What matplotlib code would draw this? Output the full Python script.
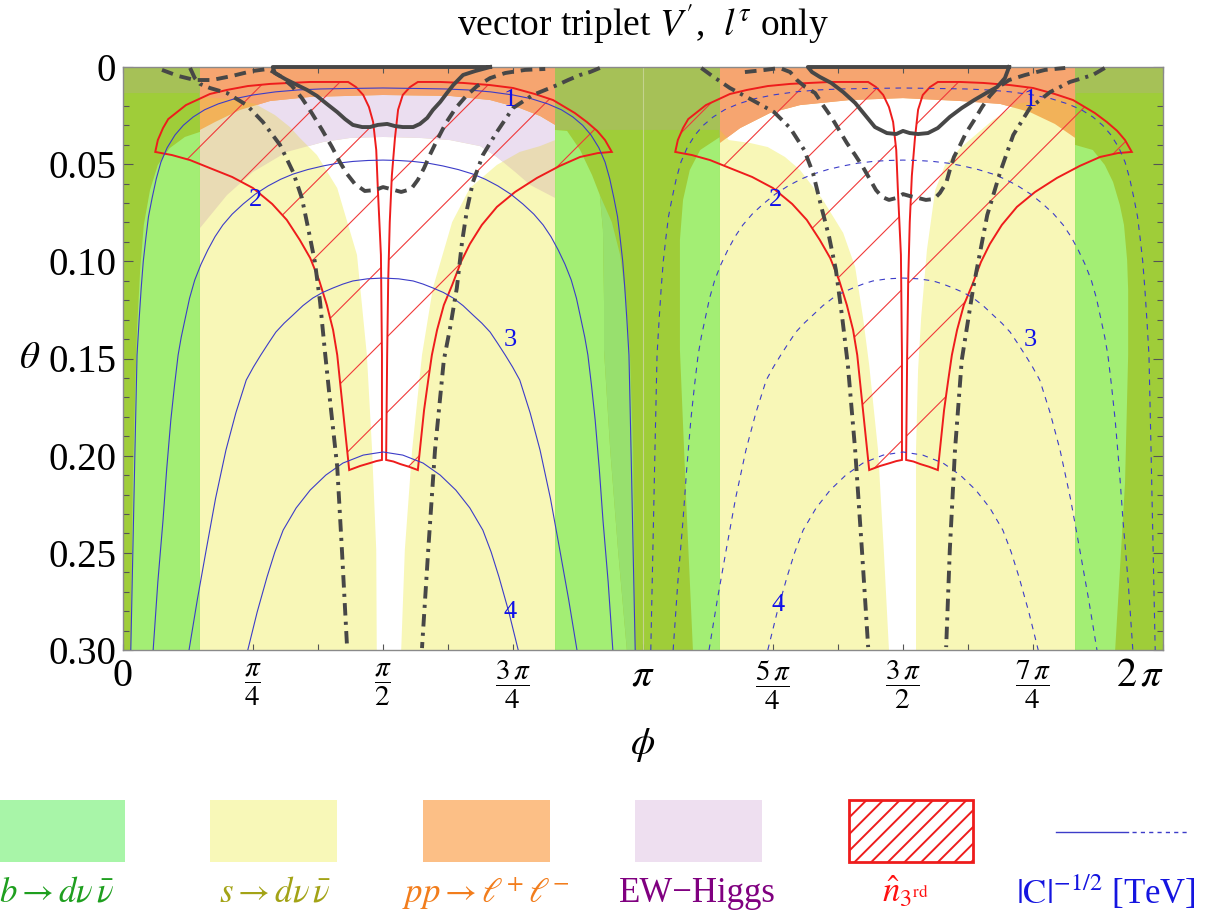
import numpy as np
import matplotlib.pyplot as plt
import matplotlib.transforms as mtransforms
from matplotlib.lines import Line2D
from matplotlib.patches import Polygon, PathPatch, Rectangle
from matplotlib.path import Path

plt.rcParams['font.family'] = ['Liberation Serif', 'DejaVu Serif']
plt.rcParams['mathtext.fontset'] = 'stix'
plt.rcParams['hatch.linewidth'] = 1.4

PI = np.pi

# all phi values below are in units of pi

# s -> d nu nubar : allowed pockets (white) around pi/2 and 3pi/2
wl_phi = [0.148, 0.831, 0.831, 0.802, 0.763, 0.719, 0.667, 0.633, 0.596, 0.575, 0.556, 0.542, 0.535,
          0.488, 0.487, 0.479, 0.469, 0.450, 0.412, 0.373, 0.340, 0.321, 0.292, 0.254, 0.206, 0.148]
wl_theta = [0.0, 0.0, 0.0376, 0.0407, 0.0437, 0.0504, 0.0623, 0.0798, 0.1137, 0.1482, 0.1971, 0.2485, 0.300,
            0.300, 0.2485, 0.1971, 0.1482, 0.0967, 0.0623, 0.0453, 0.0365, 0.0309, 0.0247, 0.0190, 0.0165, 0.0154]
wr_phi = [1.148, 1.148, 1.165, 1.206, 1.240, 1.273, 1.302, 1.346, 1.385, 1.408, 1.423, 1.435, 1.452, 1.463, 1.473,
          1.525, 1.525, 1.525, 1.529, 1.535, 1.546, 1.562, 1.581, 1.610, 1.635, 1.673, 1.719, 1.763, 1.831, 1.831]
wr_theta = [0.0, 0.0324, 0.0376, 0.0391, 0.0412, 0.0463, 0.0530, 0.0684, 0.0854, 0.1029, 0.1287, 0.1534, 0.1971, 0.2485, 0.300,
            0.300, 0.2485, 0.1971, 0.1559, 0.1287, 0.0942, 0.0633, 0.0504, 0.0417, 0.0360, 0.0273, 0.0190, 0.0170, 0.0160, 0.0]

# EW-Higgs exclusion (only phi < pi)
pur_phi = [0.138, 0.850, 0.850, 0.831, 0.783, 0.754, 0.719, 0.687, 0.629, 0.571, 0.500, 0.437, 0.385,
           0.315, 0.250, 0.200, 0.148, 0.138]
pur_theta = [0.0, 0.0, 0.0710, 0.0674, 0.0607, 0.0540, 0.0463, 0.0407, 0.0376, 0.0365, 0.0360, 0.0365, 0.0386,
             0.0437, 0.0540, 0.0659, 0.0829, 0.0849]

# pp -> l+ l- exclusion, lower edge
ora_phi = [0.0, 0.146, 0.148, 0.177, 0.225, 0.283, 0.360, 0.500, 0.629, 0.706, 0.763, 0.802, 0.831, 0.833,
           1.146, 1.148, 1.187, 1.244, 1.302, 1.398, 1.500, 1.610, 1.687, 1.744, 1.792, 1.831, 1.833, 2.0]
ora_theta = [0.0134, 0.0134, 0.0324, 0.0283, 0.0221, 0.0175, 0.0154, 0.0144, 0.0149, 0.0170, 0.0211, 0.0252, 0.0298, 0.0324,
             0.0324, 0.0391, 0.0314, 0.0237, 0.0196, 0.0170, 0.0160, 0.0175, 0.0190, 0.0232, 0.0293, 0.0365, 0.0134, 0.0134]

# b -> d nu nubar bands
band_lo = [0.0, 0.831, 1.831]
band_hi = [0.148, 1.148, 2.0]
lg0_phi = [0.148, 0.119, 0.090, 0.067, 0.052, 0.040, 0.033, 0.027, 0.023, 0.019, 0.017, 0.015, 0.148]
lg0_theta = [0.0334, 0.0360, 0.0417, 0.0504, 0.0633, 0.0813, 0.1045, 0.1353, 0.1714, 0.2125, 0.2537, 0.300, 0.300]
lg1_phi = [0.831, 0.854, 0.879, 0.902, 0.917, 0.923, 0.925, 0.925, 0.937, 0.952, 0.969, 0.831]
lg1_theta = [0.0324, 0.0329, 0.0427, 0.0556, 0.0659, 0.0839, 0.1199, 0.1456, 0.1971, 0.2485, 0.300, 0.300]
mg1_phi = [0.917, 0.940, 0.956, 0.967, 0.975, 0.981, 0.983, 0.985, 0.969, 0.952, 0.937, 0.925, 0.925, 0.923]
mg1_theta = [0.0659, 0.0798, 0.0967, 0.1199, 0.1482, 0.1971, 0.2485, 0.300, 0.300, 0.2485, 0.1971, 0.1456, 0.1199, 0.0839]
lg2_phi = [1.148, 1.110, 1.090, 1.077, 1.071, 1.071, 1.071, 1.083, 1.096, 1.148]
lg2_theta = [0.0360, 0.0427, 0.0530, 0.0684, 0.0890, 0.1199, 0.1456, 0.2228, 0.300, 0.300]
lg3_phi = [1.831, 1.865, 1.888, 1.904, 1.917, 1.925, 1.931, 1.933, 1.933, 1.927, 1.908, 1.831]
lg3_theta = [0.0401, 0.0427, 0.0504, 0.0592, 0.0710, 0.0813, 0.0993, 0.1148, 0.1482, 0.2141, 0.300, 0.300]

# n_3rd region: two lobes per half period (outer arc, centre spike, bottom arc, inner edge)
redL_phi = [0.062, 0.067, 0.077, 0.087, 0.104, 0.121, 0.142, 0.167, 0.200, 0.240, 0.283, 0.321, 0.360, 0.433,
            0.448, 0.462, 0.473, 0.481, 0.487, 0.490, 0.496, 0.498, 0.498,
            0.487, 0.475, 0.456, 0.435,
            0.429, 0.423, 0.417, 0.412, 0.404, 0.392, 0.377, 0.360, 0.340, 0.315, 0.287, 0.250, 0.210, 0.167,
            0.129, 0.094]
redL_theta = [0.0437, 0.0376, 0.0314, 0.0268, 0.0232, 0.0196, 0.0170, 0.0139, 0.0118, 0.0098, 0.0087, 0.0082, 0.0077,
              0.0077,
              0.0103, 0.0144, 0.0206, 0.0283, 0.0427, 0.0623, 0.0967, 0.1482, 0.2022,
              0.2028, 0.2038, 0.2053, 0.2074,
              0.1919, 0.1765, 0.1611, 0.1482, 0.1353, 0.1225, 0.1096, 0.0983, 0.0890, 0.0787, 0.0705, 0.0623, 0.0566,
              0.0520, 0.0479, 0.0453]
redR_phi = [0.940, 0.927, 0.912, 0.892, 0.869, 0.827, 0.792, 0.750, 0.706, 0.654, 0.610, 0.567,
            0.552, 0.538, 0.529, 0.523, 0.517, 0.513, 0.510, 0.508, 0.506,
            0.520, 0.533, 0.550, 0.567,
            0.573, 0.579, 0.587, 0.594, 0.604, 0.617, 0.633, 0.650, 0.667, 0.690, 0.719, 0.754, 0.796, 0.840,
            0.879, 0.913]
redR_theta = [0.0437, 0.0376, 0.0329, 0.0283, 0.0237, 0.0170, 0.0139, 0.0108, 0.0093, 0.0082, 0.0077, 0.0077,
              0.0103, 0.0144, 0.0220, 0.0365, 0.0560, 0.0798, 0.1100, 0.1482, 0.2022,
              0.2030, 0.2043, 0.2057, 0.2074,
              0.1919, 0.1765, 0.1611, 0.1482, 0.1353, 0.1225, 0.1122, 0.1003, 0.0911, 0.0813, 0.0720, 0.0643, 0.0571,
              0.0509, 0.0463, 0.0443]

# |C|^-1/2 contours, distance from pi/2 (units of pi) vs theta, outer end first
c1_dev = [0.485, 0.481, 0.477, 0.473, 0.469, 0.465, 0.461, 0.456, 0.451, 0.444, 0.436, 0.427, 0.415, 0.400, 0.384,
          0.365, 0.343, 0.317, 0.285, 0.250, 0.207, 0.163, 0.120, 0.077, 0.0]
c1_theta = [0.300, 0.2485, 0.1971, 0.1482, 0.130, 0.1137, 0.100, 0.0880, 0.077, 0.0674, 0.0575, 0.0489, 0.0415, 0.0350,
            0.0300, 0.0257, 0.0220, 0.0190, 0.0163, 0.0144, 0.0128, 0.0118, 0.0113, 0.0111, 0.0108]
c2_dev = [0.442, 0.433, 0.423, 0.416, 0.408, 0.401, 0.394, 0.388, 0.381, 0.372, 0.362, 0.350, 0.337, 0.323, 0.308,
          0.290, 0.269, 0.246, 0.221, 0.197, 0.173, 0.145, 0.115, 0.087, 0.058, 0.029, 0.0]
c2_theta = [0.300, 0.265, 0.2331, 0.207, 0.1816, 0.164, 0.1482, 0.139, 0.1302, 0.119, 0.1096, 0.1015, 0.0942, 0.0873,
            0.0813, 0.0757, 0.0705, 0.0655, 0.0612, 0.0578, 0.0551, 0.0528, 0.0509, 0.0495, 0.0486, 0.0481, 0.0479]
c3_dev = [0.373, 0.357, 0.340, 0.322, 0.302, 0.283, 0.263, 0.249, 0.235, 0.220, 0.206, 0.190, 0.173, 0.154, 0.135,
          0.116, 0.096, 0.077, 0.058, 0.030, 0.0]
c3_theta = [0.300, 0.274, 0.2485, 0.222, 0.1971, 0.178, 0.1611, 0.1543, 0.1482, 0.142, 0.1364, 0.1318, 0.1276, 0.1228,
            0.1189, 0.1160, 0.1137, 0.1117, 0.1101, 0.1090, 0.1086]
c4_dev = [0.260, 0.242, 0.223, 0.208, 0.192, 0.167, 0.140, 0.110, 0.077, 0.038, 0.0]
c4_theta = [0.300, 0.2805, 0.2624, 0.2496, 0.2383, 0.2269, 0.2177, 0.2100, 0.2038, 0.1997, 0.1981]
clab_text = ['1', '2', '3', '4', '1', '2', '3', '4']
clab_phi = [0.744, 0.254, 0.744, 0.744, 1.744, 1.254, 1.744, 1.260]
clab_theta = [0.017, 0.0684, 0.1405, 0.2805, 0.017, 0.0684, 0.1405, 0.2768]

# thick grey bounds
sl_phi = [0.706, 0.288, 0.292, 0.312, 0.335, 0.354, 0.373, 0.392, 0.412, 0.427, 0.442, 0.460, 0.475, 0.490,
          0.508, 0.523, 0.538, 0.558, 0.571, 0.585, 0.596, 0.610, 0.623, 0.635, 0.654, 0.677, 0.706]
sl_theta = [0.0, 0.0, 0.0031, 0.0062, 0.0093, 0.0118, 0.0149, 0.0190, 0.0232, 0.0268, 0.0298, 0.0309, 0.0309, 0.0298,
            0.0293, 0.0304, 0.0309, 0.0309, 0.0293, 0.0262, 0.0221, 0.0180, 0.0134, 0.0093, 0.0041, 0.0021, 0.0]
sr_phi = [1.704, 1.317, 1.325, 1.340, 1.362, 1.385, 1.408, 1.427, 1.446, 1.469, 1.487, 1.500, 1.513, 1.529,
          1.548, 1.567, 1.590, 1.613, 1.637, 1.660, 1.681, 1.696, 1.704]
sr_theta = [0.0, 0.0, 0.0026, 0.0051, 0.0082, 0.0129, 0.0185, 0.0247, 0.0309, 0.0340, 0.0345, 0.0329, 0.0340, 0.0345,
            0.0340, 0.0314, 0.0257, 0.0211, 0.0170, 0.0134, 0.0103, 0.0057, 0.0]
dl_phi = [0.075, 0.106, 0.138, 0.171, 0.210, 0.248, 0.279, 0.302, 0.325, 0.344, 0.363, 0.383, 0.402, 0.417, 0.431,
          0.446, 0.465, 0.485, 0.500, 0.515, 0.535, 0.554, 0.567, 0.579, 0.590, 0.604, 0.621, 0.640, 0.660, 0.681,
          0.706, 0.735, 0.773, 0.812]
dl_theta = [0.0015, 0.0046, 0.0067, 0.0067, 0.0046, 0.0021, 0.0010, 0.0046, 0.0098, 0.0160, 0.0237, 0.0324, 0.0412,
            0.0489, 0.0551, 0.0602, 0.0638, 0.0633, 0.0618, 0.0628, 0.0643, 0.0628, 0.0581, 0.0520, 0.0453, 0.0376,
            0.0288, 0.0211, 0.0149, 0.0098, 0.0057, 0.0031, 0.0015, 0.0010]
dr_phi = [1.196, 1.235, 1.263, 1.283, 1.296, 1.312, 1.331, 1.346, 1.362, 1.377, 1.392, 1.408, 1.423, 1.437, 1.448,
          1.460, 1.473, 1.487, 1.500, 1.513, 1.529, 1.544, 1.560, 1.571, 1.583, 1.590, 1.598, 1.610, 1.621, 1.637,
          1.652, 1.667, 1.681, 1.704, 1.735, 1.773, 1.812]
dr_theta = [0.0026, 0.0015, 0.0005, 0.0026, 0.0067, 0.0103, 0.0134, 0.0196, 0.0257, 0.0324, 0.0391, 0.0453, 0.0515,
            0.0581, 0.0633, 0.0669, 0.0684, 0.0674, 0.0654, 0.0664, 0.0674, 0.0684, 0.0679, 0.0648, 0.0597, 0.0530,
            0.0463, 0.0401, 0.0340, 0.0273, 0.0206, 0.0149, 0.0108, 0.0067, 0.0041, 0.0015, 0.0005]
ddl1_phi = [0.129, 0.138, 0.148, 0.167, 0.200, 0.238, 0.269, 0.302, 0.327, 0.344, 0.356, 0.369, 0.379, 0.388, 0.398,
            0.412, 0.421, 0.431]
ddl1_theta = [0.0005, 0.0057, 0.0087, 0.0108, 0.0134, 0.0196, 0.0283, 0.0401, 0.0540, 0.0674, 0.0829, 0.1003, 0.1209,
              0.1456, 0.1714, 0.2058, 0.2485, 0.299]
ddl2_phi = [0.917, 0.898, 0.879, 0.856, 0.835, 0.812, 0.788, 0.750, 0.719, 0.692, 0.673, 0.662, 0.652, 0.642, 0.629,
            0.617, 0.600, 0.587, 0.575]
ddl2_theta = [0.0005, 0.0026, 0.0041, 0.0067, 0.0093, 0.0118, 0.0144, 0.0211, 0.0334, 0.0453, 0.0592, 0.0726, 0.0901,
              0.1137, 0.1343, 0.1508, 0.1971, 0.2485, 0.299]
ddr1_phi = [1.112, 1.133, 1.167, 1.210, 1.252, 1.283, 1.310, 1.327, 1.342, 1.358, 1.371, 1.383, 1.394, 1.408, 1.421, 1.433]
ddr1_theta = [0.0005, 0.0046, 0.0108, 0.0170, 0.0232, 0.0314, 0.0427, 0.0546, 0.0710, 0.0875, 0.1045, 0.1287, 0.1534,
              0.1971, 0.2485, 0.2985]
ddr2_phi = [1.888, 1.865, 1.821, 1.783, 1.744, 1.712, 1.687, 1.662, 1.635, 1.613, 1.600, 1.590, 1.583]
ddr2_theta = [0.0005, 0.0041, 0.0077, 0.0129, 0.0211, 0.0350, 0.0540, 0.0762, 0.1137, 0.1508, 0.1971, 0.2485, 0.2985]

# colours
YELLOW = '#f8f7b7'
TAN = '#e9dbb4'
LAVENDER = '#ebdef0'
GOLD = '#f2b259'
ORANGE = '#f6a570'
OLIVE = '#9fcd39'
LIGHTGREEN = '#a3ee74'
MIDGREEN = '#98e06e'
TOPGRAY = '#a6c157'
RED = '#ee1c1c'
BLUE = '#3c3cc8'
DARK = '#474747'

W, H = 1222, 918
fig = plt.figure(figsize=(W / 100, H / 100), dpi=100)
ax = fig.add_axes([123 / W, 268 / H, 1040 / W, 583 / H])
ax.set_xlim(0, 2 * PI)
ax.set_ylim(0.30, 0.0)
ax.set_facecolor(YELLOW)


def xy(phi, theta):
    return np.column_stack([np.asarray(phi) * PI, np.asarray(theta)])


def ring(phi, theta):
    v = xy(phi, theta)
    return Path(np.vstack([v, v[:1]]), closed=True)


def fill(phi, theta, color, z, clip=None):
    p = Polygon(xy(phi, theta), closed=True, fc=color, ec='none', zorder=z)
    ax.add_patch(p)
    if clip is not None:
        p.set_clip_path(clip)
    return p


# white pockets, then overlays that look different over yellow / white
hole = PathPatch(Path.make_compound_path(ring(wl_phi, wl_theta), ring(wr_phi, wr_theta)),
                 fc='white', ec='none', zorder=1)
ax.add_patch(hole)
fill(pur_phi, pur_theta, TAN, 1.1)
fill(pur_phi, pur_theta, LAVENDER, 1.2, hole)
ora_all_phi = [0.0] + ora_phi + [2.0]
ora_all_theta = [0.0] + ora_theta + [0.0]
ora = fill(ora_all_phi, ora_all_theta, GOLD, 1.3)
fill(ora_all_phi, ora_all_theta, ORANGE, 1.4, hole)

# b -> d nu nubar bands
for lo, hi in zip(band_lo, band_hi):
    ax.add_patch(Rectangle((lo * PI, 0), (hi - lo) * PI, 0.30, fc=OLIVE, ec='none', zorder=1.5))
fill(lg0_phi, lg0_theta, LIGHTGREEN, 1.6)
fill(lg1_phi, lg1_theta, LIGHTGREEN, 1.6)
fill(mg1_phi, mg1_theta, MIDGREEN, 1.6)
fill(lg2_phi, lg2_theta, LIGHTGREEN, 1.6)
fill(lg3_phi, lg3_theta, LIGHTGREEN, 1.6)
for lo, hi in zip(band_lo, band_hi):
    r = Rectangle((lo * PI, 0), (hi - lo) * PI, 0.30, fc=TOPGRAY, ec='none', zorder=1.7)
    ax.add_patch(r)
    r.set_clip_path(ora)
ax.axvline(PI, color='#c4d38e', lw=0.8, zorder=1.8)

# hatched n_3rd lobes
aw, ah = 1040.0, 583.0
hatch_step = 75.5
for shift, off in ((0, 26.5), (1, 41.0)):
    for ph, th in ((redL_phi, redL_theta), (redR_phi, redR_theta)):
        lobe = Polygon(xy(np.add(ph, shift), th), closed=True, fill=False, ec=RED, lw=1.4, zorder=3)
        ax.add_patch(lobe)
        for c in np.arange(off - 8 * hatch_step, aw + hatch_step, hatch_step):
            ln = Line2D([0, 1], [-c / ah, (aw - c) / ah], transform=ax.transAxes,
                        color='#f03a3a', lw=0.8, zorder=2.9)
            ax.add_line(ln)
            ln.set_clip_path(lobe)

# |C|^-1/2 contours: solid for phi < pi, dashed beyond
for shift, ls in ((0, '-'), (1, (0, (5, 5)))):
    for dev, th in ((c1_dev, c1_theta), (c2_dev, c2_theta), (c3_dev, c3_theta), (c4_dev, c4_theta)):
        dev = np.asarray(dev)
        th = np.asarray(th)
        phi = np.concatenate([0.5 - dev, (0.5 + dev)[::-1][1:]]) + shift
        theta = np.concatenate([th, th[::-1][1:]])
        ax.plot(phi * PI, theta, color=BLUE, lw=0.8, ls=ls, zorder=3.5)
for t, p, q in zip(clab_text, clab_phi, clab_theta):
    ax.text(p * PI, q, t, color='#1010e8', fontsize=19, ha='center', va='center', zorder=5)

# thick grey bounds
for ph, th in ((sl_phi, sl_theta), (sr_phi, sr_theta)):
    ax.plot(np.multiply(ph, PI), th, color=DARK, lw=2.8, zorder=4, clip_on=False, solid_joinstyle='round')
for ph, th in ((dl_phi, dl_theta), (dr_phi, dr_theta)):
    ax.plot(np.multiply(ph, PI), th, color=DARK, lw=2.8, ls=(0, (3.0, 1.8)), zorder=4, clip_on=False)
for ph, th in ((ddl1_phi, ddl1_theta), (ddl2_phi, ddl2_theta), (ddr1_phi, ddr1_theta), (ddr2_phi, ddr2_theta)):
    ax.plot(np.multiply(ph, PI), th, color=DARK, lw=2.8, ls=(0, (3.2, 1.6, 0.8, 1.6)), zorder=4, clip_on=False)

# axes frame and ticks
for s in ax.spines.values():
    s.set_color('#8a8a8a')
    s.set_linewidth(1.0)
ax.set_xticks(np.arange(9) * PI / 4)
ax.set_xticks(np.arange(1, 16, 2) * PI / 8, minor=True)
ax.tick_params(axis='x', which='both', direction='in', length=4.5, width=0.8, color='#555555',
               top=True, bottom=True, labelbottom=False)
ax.set_yticks([0.0, 0.05, 0.10, 0.15, 0.20, 0.25, 0.30])
ax.set_yticklabels(['0', '0.05', '0.10', '0.15', '0.20', '0.25', '0.30'], fontsize=28)
ax.set_yticks([i * 0.01 for i in range(31) if i % 5], minor=True)
ax.tick_params(axis='y', which='major', direction='in', length=7, width=0.8, color='#555555',
               left=True, right=True, pad=5)
ax.tick_params(axis='y', which='minor', direction='in', length=4.5, width=0.8, color='#555555',
               left=True, right=True)

xlab_text = ['0', r'$\dfrac{\pi}{4}$', r'$\dfrac{\pi}{2}$', r'$\dfrac{3\,\pi}{4}$', r'$\pi$',
             r'$\dfrac{5\,\pi}{4}$', r'$\dfrac{3\,\pi}{2}$', r'$\dfrac{7\,\pi}{4}$', r'$2\,\pi$']
xlab_pos = [0, 0.25, 0.5, 0.75, 1.0, 1.25, 1.5, 1.75, 1.956]
blend = mtransforms.blended_transform_factory(ax.transData, ax.transAxes)
for t, p in zip(xlab_text, xlab_pos):
    if 'dfrac' in t:
        ax.text(p * PI, -0.060, t, transform=blend, fontsize=21, ha='center', va='center')
    else:
        ax.text(p * PI, -0.045, t, transform=blend, fontsize=29, ha='center', va='center')

# page-level text and legend in pixel units
lay = fig.add_axes([0, 0, 1, 1])
lay.set_xlim(0, W)
lay.set_ylim(H, 0)
lay.set_axis_off()
lay.text(643, 24, r"vector triplet $V'$,  $l^{\tau}$ only", fontsize=27, ha='center', va='center')
lay.text(30, 358, r'$\theta$', fontsize=28, ha='center', va='center')
lay.text(643, 745, r'$\phi$', fontsize=28, ha='center', va='center')

leg_box_x = [-2, 210, 423, 635]
leg_box_c = ['#a8f5a8', '#f8f8b8', '#fcbf86', '#eedff0']
for x0, c in zip(leg_box_x, leg_box_c):
    lay.add_patch(Rectangle((x0, 800), 127, 62, fc=c, ec='none'))
lay.add_patch(Rectangle((849, 800), 124, 62, fill=False, hatch='//', ec=RED, lw=2.0))
lay.plot([1056, 1128], [832, 832], color=BLUE, lw=1.0)
lay.plot([1132, 1188], [832, 832], color=BLUE, lw=1.0, ls=(0, (3, 3)))

leg_text = [r'$b\rightarrow d\nu\,\bar{\nu}$', r'$s\rightarrow d\nu\,\bar{\nu}$',
            r'$pp\rightarrow \ell^{+}\,\ell^{-}$', 'EW\u2212Higgs', r'$\hat{n}_{3^{\mathrm{rd}}}$',
            r'$|\mathrm{C}|^{-1/2}$ [TeV]']
leg_text_x = [57, 275, 486, 697, 905, 1106]
leg_text_c = ['#1f9f1f', '#a3a316', '#f27d1c', '#800080', '#ff1010', '#1515e0']
for t, x0, c in zip(leg_text, leg_text_x, leg_text_c):
    lay.text(x0, 893, t, fontsize=25, color=c, ha='center', va='center')

fig.savefig('out.png', dpi=100)
